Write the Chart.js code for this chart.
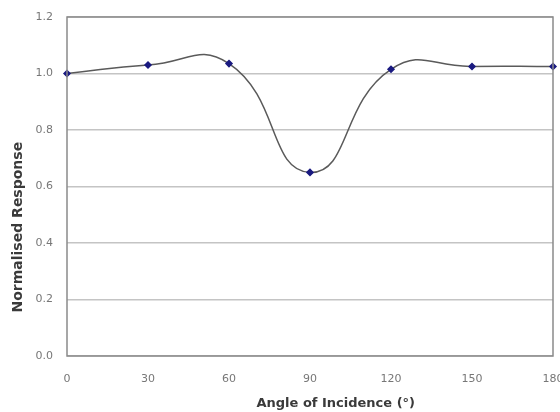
<!DOCTYPE html>
<html>
<head>
<meta charset="utf-8">
<script src="https://cdn.jsdelivr.net/npm/chart.js@4"></script>
<style>
  html, body { margin: 0; padding: 0; background: #fff; }
  #wrap { width: 560px; height: 412px; }
</style>
</head>
<body>
<div id="wrap"><canvas id="responseChart" width="560" height="412"></canvas></div>
<script>
// angle of incidence (degrees) and normalised response
const angles = [0, 30, 60, 90, 120, 150, 180];
const response = [1.00, 1.03, 1.035, 0.65, 1.015, 1.025, 1.025];
const yTicks = [0.0, 0.2, 0.4, 0.6, 0.8, 1.0, 1.2];
const xTicks = [0, 30, 60, 90, 120, 150, 180];

const tickFont = { family: "'DejaVu Sans', Arial", size: 11 };

// outline around the plot area plus the two axis titles
const frame = {
    id: "frame",
    afterDatasetsDraw(chart) {
        const a = chart.chartArea;
        const ctx = chart.ctx;
        ctx.save();
        ctx.strokeStyle = "#8a8a8a";
        ctx.lineWidth = 1.5;
        ctx.strokeRect(a.left, a.top, a.right - a.left, a.bottom - a.top);

        ctx.fillStyle = "#3a3a3a";
        ctx.textAlign = "center";
        ctx.textBaseline = "middle";
        ctx.font = "bold 13px 'DejaVu Sans', Arial";
        ctx.fillText("Angle of Incidence (°)", a.left + (a.right - a.left) * 0.553, 404);

        ctx.translate(18, a.top + (a.bottom - a.top) * 0.62);
        ctx.rotate(-Math.PI / 2);
        ctx.font = "bold 14px 'DejaVu Sans', Arial";
        ctx.fillText("Normalised Response", 0, 0);
        ctx.restore();
    }
};

const ctx = document.getElementById("responseChart").getContext("2d");
new Chart(ctx, {
    type: "line",
    data: {
        datasets: [{
            data: angles.map((a, i) => ({ x: a, y: response[i] })),
            borderColor: "#5a5a5a",
            borderWidth: 1.5,
            tension: 0.5,
            pointRadius: 3,
            pointStyle: "rectRot",
            pointBackgroundColor: "#1a1a80",
            pointBorderColor: "#1a1a80",
            fill: false,
            clip: false
        }]
    },
    plugins: [frame],
    options: {
        responsive: false,
        animation: false,
        layout: { autoPadding: false, padding: { top: 17, right: 7, left: 0, bottom: 0 } },
        plugins: { legend: { display: false }, tooltip: { enabled: false } },
        scales: {
            x: {
                type: "linear",
                min: 0,
                max: 180,
                afterBuildTicks: s => { s.ticks = xTicks.map(v => ({ value: v })); },
                grid: { display: false },
                border: { display: false },
                ticks: {
                    color: "#777",
                    font: tickFont,
                    padding: 9,
                    maxRotation: 0
                },
                afterFit: s => {
                    s.height = 56;
                    s.paddingLeft = 0;
                    s.paddingRight = 0;
                }
            },
            y: {
                min: 0,
                max: 1.2,
                afterBuildTicks: s => { s.ticks = yTicks.map(v => ({ value: v })); },
                grid: { color: "#c4c4c4", lineWidth: 1.5, drawTicks: false },
                border: { display: false },
                ticks: {
                    color: "#777",
                    font: tickFont,
                    padding: 14,
                    callback: v => v.toFixed(1)
                },
                afterFit: s => {
                    s.width = 67;
                    s.paddingTop = 0;
                    s.paddingBottom = 0;
                }
            }
        }
    }
});
</script>
</body>
</html>
